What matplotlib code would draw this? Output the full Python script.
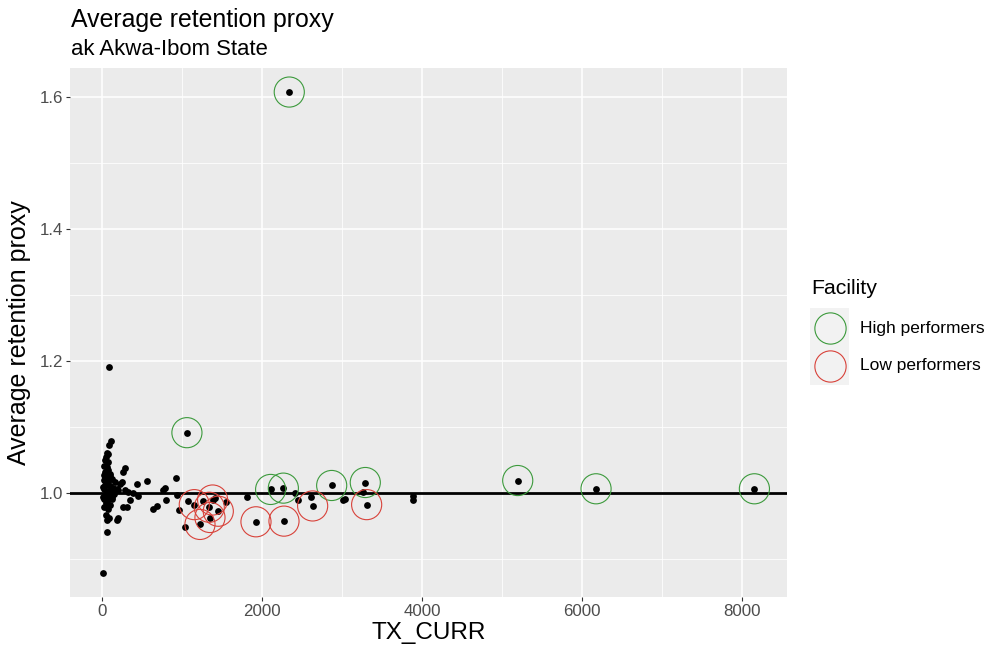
import matplotlib
matplotlib.use("Agg")
import matplotlib.pyplot as plt
from matplotlib.lines import Line2D
from matplotlib.patches import Rectangle
from matplotlib.ticker import MultipleLocator

plt.rcParams['font.family'] = ['Liberation Sans', 'DejaVu Sans']

# ---- data: all facilities (TX_CURR, average retention proxy) ----
tx_curr = [
    112, 87, 58, 79, 46, 42, 75, 29, 58, 79, 37, 100, 21, 58, 121, 29, 79, 162,
    37, 100, 183, 21, 58, 121, 37, 87, 154, 29, 67, 121, 46, 100, 29, 79, 46,
    87, 58, 204, 183, 58, 12, 95, 140, 18, 65, 130,
    287, 267, 246, 225, 204, 287, 329, 392, 350, 308, 267, 454, 441, 558, 787,
    767, 796, 683, 641, 921, 933,
    83, 8,
    1062, 967, 1041, 1071, 1154, 1225, 1267, 1350, 1341, 1383, 1412, 1454, 1550,
    1808, 1925, 2108, 2267, 2275, 2417, 2450, 2612, 2633, 2871, 3008, 3037,
    3291, 3267, 3308, 3883, 3892, 5196, 6175, 8154, 2341,
]
retention = [
    1.080, 1.074, 1.061, 1.060, 1.055, 1.050, 1.048, 1.042, 1.040, 1.035, 1.033,
    1.030, 1.028, 1.025, 1.022, 1.020, 1.018, 1.017, 1.0125, 1.011, 1.007, 1.006,
    1.003, 1.004, 0.997, 0.996, 0.999, 0.992, 0.989, 0.991, 0.985, 0.983, 0.979,
    0.977, 0.967, 0.963, 0.960, 0.9625, 0.959, 0.942, 1.010, 1.026, 1.008, 0.995,
    1.015, 0.994,
    1.039, 1.033, 1.017, 1.014, 1.0045, 1.0045, 1.002, 1.0005, 0.990, 0.979,
    0.979, 0.996, 1.0135, 1.0185, 1.0085, 1.0055, 0.9905, 0.9805, 0.976, 1.0235,
    0.997,
    1.192, 0.8795,
    1.092, 0.9755, 0.9495, 0.988, 0.983, 0.953, 0.988, 0.9635, 0.979, 0.990,
    0.993, 0.973, 0.987, 0.995, 0.957, 1.006, 1.008, 0.958, 1.000, 0.990, 0.994,
    0.981, 1.012, 0.990, 0.992, 1.0165, 1.002, 0.983, 0.9955, 0.990, 1.0195,
    1.007, 1.007, 1.608,
]

# ---- highlighted facilities ----
high_tx = [1062, 2108, 2267, 2341, 2871, 3291, 5196, 6175, 8154]
high_ret = [1.092, 1.006, 1.008, 1.608, 1.012, 1.0165, 1.0195, 1.007, 1.007]
low_tx = [1154, 1225, 1341, 1350, 1383, 1454, 1925, 2275, 2633, 3308]
low_ret = [0.983, 0.953, 0.979, 0.9635, 0.990, 0.973, 0.957, 0.958, 0.981, 0.983]

x_ticks = [0, 2000, 4000, 6000, 8000]
y_ticks = [1.0, 1.2, 1.4, 1.6]
reference_level = 1.0

title = "Average retention proxy"
subtitle = "ak Akwa-Ibom State"
legend_title = "Facility"
legend_labels = ["High performers", "Low performers"]

GREEN = "#3c9a3c"
RED = "#d8423a"

W, H = 993, 650
fig = plt.figure(figsize=(W / 100, H / 100), dpi=100)
L, R, T, B = 70, 787, 68, 597
ax = fig.add_axes([L / W, 1 - B / H, (R - L) / W, (B - T) / H])
ax.set_facecolor("#EBEBEB")
for s in ax.spines.values():
    s.set_visible(False)

ax.set_xticks(x_ticks)
ax.set_yticks(y_ticks)
ax.xaxis.set_minor_locator(MultipleLocator(1000))
ax.yaxis.set_minor_locator(MultipleLocator(0.1))
ax.grid(which="major", color="white", lw=1.1)
ax.grid(which="minor", color="white", lw=0.55)
ax.set_axisbelow(True)
ax.tick_params(which="minor", length=0)
ax.tick_params(which="major", length=3.2, width=0.8, color="#333333",
               labelsize=12.2, labelcolor="#4D4D4D", pad=2)
ax.set_yticklabels([f"{v:.1f}" for v in y_ticks])

ax.scatter(tx_curr, retention, s=24, color="black", lw=0, zorder=3)
ax.axhline(reference_level, color="black", lw=2.0, zorder=2)
ax.scatter(high_tx, high_ret, s=470, facecolors="none", edgecolors=GREEN,
           linewidths=0.8, zorder=4)
ax.scatter(low_tx, low_ret, s=470, facecolors="none", edgecolors=RED,
           linewidths=0.8, zorder=4)
ax.margins(x=0.05, y=0.05)

ax.set_xlabel("TX_CURR", fontsize=17.5, labelpad=2)
ax.set_ylabel("Average retention proxy", fontsize=18, labelpad=6)

fig.text(71 / W, 1 - 27 / H, title, fontsize=17.9, va="baseline", ha="left")
fig.text(71 / W, 1 - 55 / H, subtitle, fontsize=15.9, va="baseline", ha="left")

# ---- legend (ggplot style) ----
fig.text(811 / W, 1 - 289 / H, legend_title, fontsize=15.3, va="center", ha="left")
fig.add_artist(Rectangle((810 / W, 1 - 385 / H), 39 / W, 77 / H,
                         transform=fig.transFigure, facecolor="#F2F2F2",
                         edgecolor="none"))
for cy, col, lab in [(328, GREEN, legend_labels[0]), (366, RED, legend_labels[1])]:
    fig.add_artist(Line2D([829.5 / W], [1 - cy / H], marker="o", ls="",
                          mfc="none", mec=col, ms=22.5, mew=0.8,
                          transform=fig.transFigure))
    fig.text(860 / W, 1 - cy / H, lab, fontsize=12.5, va="center", ha="left")

fig.savefig("out.png", dpi=100)
